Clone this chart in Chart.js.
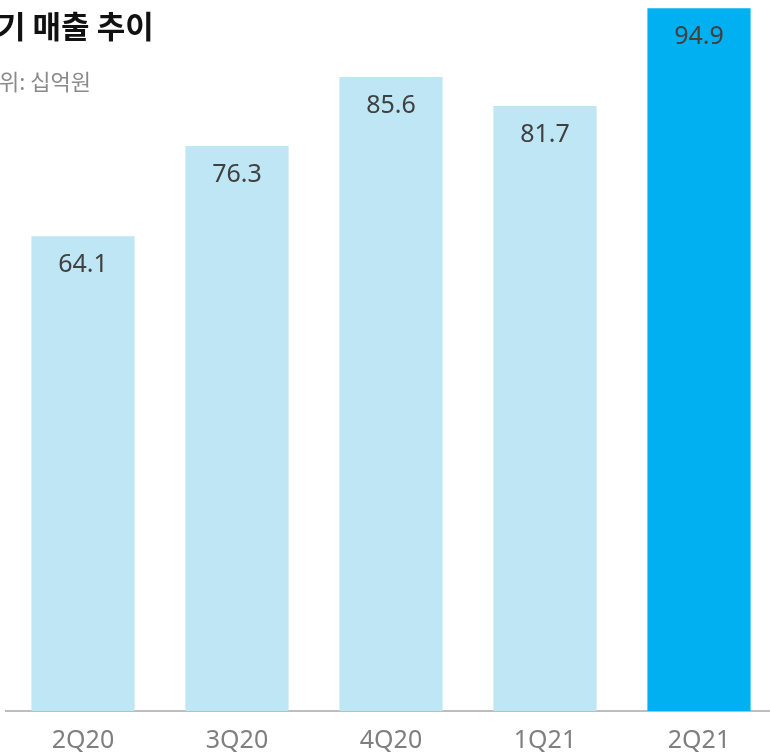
<!DOCTYPE html>
<html>
<head>
<meta charset="utf-8">
<script src="https://cdn.jsdelivr.net/npm/chart.js@4.4.1/dist/chart.umd.min.js"></script>
<style>
  html, body { margin: 0; padding: 0; background: #fff; overflow: hidden; }
  #wrap { position: relative; width: 790px; height: 755px; }
</style>
</head>
<body>
<div id="wrap"><canvas id="salesChart" width="790" height="755"></canvas></div>
<script>
const quarters = ['2Q20', '3Q20', '4Q20', '1Q21', '2Q21'];
const sales = [64.1, 76.3, 85.6, 81.7, 94.9];
const barColors = ['#BFE6F4', '#BFE6F4', '#BFE6F4', '#BFE6F4', '#00B0F0'];
const chartTitle = '분기 매출 추이';
const unitText = '단위: 십억원';

// 막대 안쪽 위에 값 표시 + 제목 (왼쪽이 잘린 상태)
const labelPlugin = {
    id: 'labelPlugin',
    afterDatasetsDraw(chart) {
        const ctx = chart.ctx;
        const meta = chart.getDatasetMeta(0);
        ctx.save();
        ctx.font = '25px "Noto Sans", sans-serif';
        ctx.fillStyle = '#404040';
        ctx.textAlign = 'center';
        ctx.textBaseline = 'middle';
        meta.data.forEach(function(bar, i) {
            ctx.fillText(sales[i].toFixed(1), bar.x, bar.y + 29);
        });
        ctx.textAlign = 'left';
        ctx.fillStyle = '#111';
        ctx.font = 'bold 31px "Noto Sans CJK KR", sans-serif';
        ctx.fillText(chartTitle, -ctx.measureText('분').width - 3, 26);
        ctx.fillStyle = '#8a8a8a';
        ctx.font = '22px "Noto Sans CJK KR", sans-serif';
        ctx.fillText(unitText, -ctx.measureText('단').width - 1, 82);
        ctx.restore();
    }
};

const ctx = document.getElementById('salesChart').getContext('2d');
new Chart(ctx, {
    type: 'bar',
    data: {
        labels: quarters,
        datasets: [{
            data: sales,
            backgroundColor: barColors,
            categoryPercentage: 1,
            barPercentage: 0.67
        }]
    },
    options: {
        responsive: false,
        animation: false,
        devicePixelRatio: 1,
        layout: { padding: { left: 6, right: 14, top: 0, bottom: 0 } },
        plugins: { legend: { display: false }, tooltip: { enabled: false } },
        scales: {
            x: {
                grid: { display: false, drawTicks: false },
                border: { display: true, color: '#BDBDBD', width: 2 },
                ticks: {
                    color: '#7f7f7f',
                    font: { family: '"Noto Sans", sans-serif', size: 25 },
                    padding: 15
                },
                afterFit(scale) { scale.height = 44; }
            },
            y: {
                display: false,
                min: 0,
                max: 96
            }
        }
    },
    plugins: [labelPlugin]
});
</script>
</body>
</html>
